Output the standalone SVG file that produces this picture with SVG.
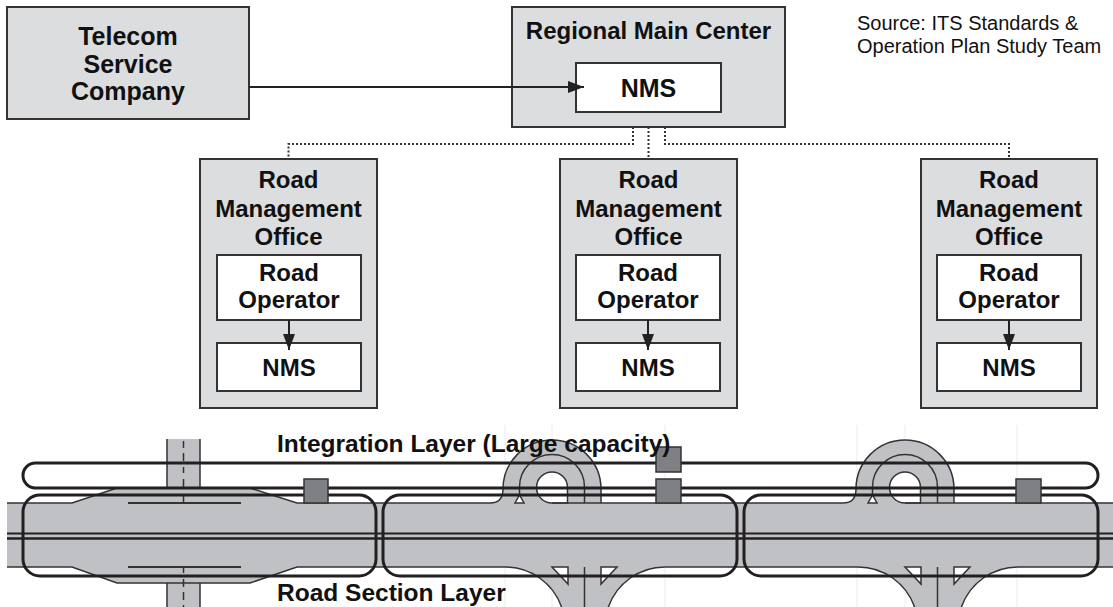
<svg xmlns="http://www.w3.org/2000/svg" width="1113" height="607" viewBox="0 0 1113 607">
<style>
  .box{fill:#dcdddf;stroke:#333;stroke-width:2}
  .inner{fill:#fff;stroke:#333;stroke-width:2}
  .t{font-family:"Liberation Sans",Arial,Helvetica,sans-serif;font-weight:bold;font-size:24px;fill:#111;text-anchor:middle}
  .big{font-size:25px}
  .lbl{font-family:"Liberation Sans",Arial,Helvetica,sans-serif;font-weight:bold;font-size:24.5px;fill:#111}
  .src{font-family:"Liberation Sans",Arial,Helvetica,sans-serif;font-size:20px;fill:#111}
  .link{fill:none;stroke:#222;stroke-width:2}
  .dot{fill:none;stroke:#333;stroke-width:2;stroke-dasharray:2 2}
  .road{fill:#c0c1c4;stroke:none}
  .edge{fill:none;stroke:#333;stroke-width:1.5}
  .lane{fill:none;stroke:#333;stroke-width:2}
  .layer{fill:none;stroke:#231f20;stroke-width:3}
  .dev{fill:#7f8084;stroke:#333;stroke-width:1.5}
  .gore{fill:#fff;stroke:#333;stroke-width:1.5}
  .guide{stroke:#ececec;stroke-width:1}
</style>
<defs>
  <marker id="arrow" viewBox="0 0 16 12" refX="16" refY="6" markerWidth="16" markerHeight="12" markerUnits="userSpaceOnUse" orient="auto">
    <path d="M0 0 L16 6 L0 12 Z" fill="#222"/>
  </marker>
  <!-- loop-ramp interchange, local x = 0 at the loop centre -->
  <g id="interchange">
    <path class="road" d="M-62 504 L-62 503 Q-49 503 -49 489 A49 49 0 0 1 49 489 L49 504 Z"/>
    <path class="road" d="M-47 566 L-47 567 A60 60 0 0 1 9.6 607 L56.4 607 A60 60 0 0 1 113 567 L113 566 Z"/>
    <path class="edge" d="M-62 503 Q-49 503 -49 489 A49 49 0 0 1 49 489 L49 503"/>
    <path class="edge" d="M-32.5 496 L-32.5 487 A32.5 32.5 0 0 1 32.5 487 L32.5 503"/>
    <path class="gore" d="M0 503 A15.5 15.5 0 1 1 15.5 487.5 L15.5 503 Z"/>
    <polygon class="gore" points="-37,503 -32.5,495 -28,503"/>
    <path class="edge" d="M-47 567 A60 60 0 0 1 9.6 607 M56.4 607 A60 60 0 0 1 113 567"/>
    <polygon class="gore" points="0,567 16,567 16,584"/>
    <polygon class="gore" points="49,567 65,567 49,584"/>
    <path class="edge" d="M32.5 567 V607"/>
  </g>
</defs>

<rect width="1113" height="607" fill="#fff"/>

<!-- faint construction lines -->
<g id="guides">
  <path class="guide" d="M505 425 V607 M552 425 V607 M665 425 V607 M857 425 V607 M905 425 V607 M1017 425 V607"/>
</g>

<!-- road network -->
<g id="roads">
  <!-- crossing road -->
  <rect class="road" x="167" y="439" width="33" height="168"/>
  <path class="edge" d="M167 439 V490 M200 439 V490 M167 580 V607 M200 580 V607"/>
  <!-- expressway -->
  <rect class="road" x="7" y="503" width="1106" height="64"/>
  <polygon class="road" points="72,503 117,488 250,488 297,503 297,567 250,583 117,583 72,567"/>
  <path class="edge" d="M183.5 441 V448 M183.5 453 V461 M183.5 467 V473 M183.5 479 V487 M183.5 496 V503 M183.5 567 V573 M183.5 579 V587 M183.5 592 V600 M183.5 605 V607"/>
  <use href="#interchange" transform="translate(552 0)"/>
  <use href="#interchange" transform="translate(905 0)"/>
  <path class="edge" d="M7 503 H72 L117 488 H250 L297 503 H490 M552 503 H843 M905 503 H1113"/>
  <path class="edge" d="M7 567 H72 L117 583 H250 L297 567 H505 M665 567 H858 M1018 567 H1113"/>
  <path class="lane" d="M128 503 H241 M128 567 H241"/>
  <path fill="none" stroke="#231f20" stroke-width="2" d="M7 533.5 H1113"/>
  <path fill="none" stroke="#231f20" stroke-width="2.5" d="M7 538.5 H1113"/>
</g>

<!-- network layers -->
<g id="road-section-layer">
  <rect class="layer" x="23" y="495" width="353" height="81" rx="17"/>
  <rect class="layer" x="383" y="495" width="354" height="81" rx="17"/>
  <rect class="layer" x="744" y="495" width="354" height="81" rx="17"/>
</g>
<g id="integration-layer">
  <rect class="layer" x="23" y="463" width="1075" height="25" rx="12.5"/>
</g>
<g id="devices">
  <rect class="dev" x="304" y="479" width="24" height="24"/>
  <rect class="dev" x="656" y="447" width="25" height="25"/>
  <rect class="dev" x="656" y="479" width="25" height="24"/>
  <rect class="dev" x="1016" y="479" width="25" height="24"/>
</g>
<text class="lbl" x="277" y="452">Integration Layer (Large capacity)</text>
<text class="lbl" x="277" y="601">Road Section Layer</text>

<!-- nodes -->
<g id="telecom">
  <rect class="box" x="7" y="7" width="242" height="112"/>
  <text class="t big" x="128" y="45">Telecom</text>
  <text class="t big" x="128" y="73">Service</text>
  <text class="t big" x="128" y="100">Company</text>
</g>
<g id="regional-main-center">
  <rect class="box" x="512" y="7" width="273" height="120"/>
  <text class="t" x="648.5" y="39">Regional Main Center</text>
  <g id="rmc-nms">
    <rect class="inner" x="576" y="63" width="145" height="49"/>
    <text class="t big" x="648.5" y="97">NMS</text>
  </g>
</g>
<g id="office-left">
  <rect class="box" x="200" y="159" width="177" height="249"/>
  <text class="t" x="288.5" y="188">Road</text>
  <text class="t" x="288.5" y="217">Management</text>
  <text class="t" x="288.5" y="245">Office</text>
  <g id="operator-left">
    <rect class="inner" x="217" y="255" width="144" height="65"/>
    <text class="t" x="289" y="281">Road</text>
    <text class="t" x="289" y="308">Operator</text>
  </g>
  <g id="nms-left">
    <rect class="inner" x="217" y="343" width="144" height="48"/>
    <text class="t" x="289" y="376">NMS</text>
  </g>
</g>
<g id="office-center">
  <rect class="box" x="560" y="159" width="177" height="249"/>
  <text class="t" x="648.5" y="188">Road</text>
  <text class="t" x="648.5" y="217">Management</text>
  <text class="t" x="648.5" y="245">Office</text>
  <g id="operator-center">
    <rect class="inner" x="576" y="255" width="144" height="65"/>
    <text class="t" x="648" y="281">Road</text>
    <text class="t" x="648" y="308">Operator</text>
  </g>
  <g id="nms-center">
    <rect class="inner" x="576" y="343" width="144" height="48"/>
    <text class="t" x="648" y="376">NMS</text>
  </g>
</g>
<g id="office-right">
  <rect class="box" x="921" y="159" width="176" height="249"/>
  <text class="t" x="1009" y="188">Road</text>
  <text class="t" x="1009" y="217">Management</text>
  <text class="t" x="1009" y="245">Office</text>
  <g id="operator-right">
    <rect class="inner" x="937" y="255" width="144" height="65"/>
    <text class="t" x="1009" y="281">Road</text>
    <text class="t" x="1009" y="308">Operator</text>
  </g>
  <g id="nms-right">
    <rect class="inner" x="937" y="343" width="144" height="48"/>
    <text class="t" x="1009" y="376">NMS</text>
  </g>
</g>

<!-- connectors -->
<g id="connectors">
  <path class="link" d="M249 87 H584" marker-end="url(#arrow)"/>
  <path class="dot" d="M633 127 V144 H288.5 V159"/>
  <path class="dot" d="M648.5 127 V159"/>
  <path class="dot" d="M665 127 V144 H1009 V159"/>
  <path class="link" d="M289 320 V350" marker-end="url(#arrow)"/>
  <path class="link" d="M648 320 V350" marker-end="url(#arrow)"/>
  <path class="link" d="M1009 320 V350" marker-end="url(#arrow)"/>
</g>

<g id="source">
  <text class="src" x="857" y="30">Source: ITS Standards &amp;</text>
  <text class="src" x="857" y="53">Operation Plan Study Team</text>
</g>
</svg>
